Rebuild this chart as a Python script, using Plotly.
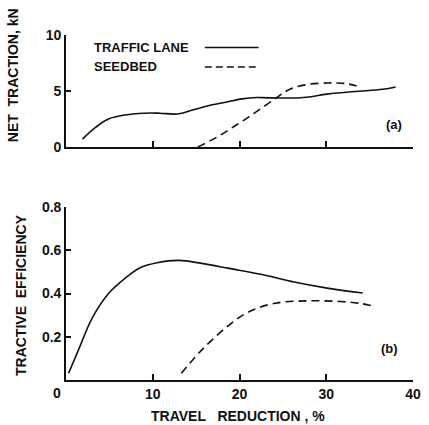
import plotly.graph_objects as go

# --- Data ---
# (a) Net traction, kN vs travel reduction, %
trac_lane_x = [1.9, 3.4, 4.9, 6.8, 9.0, 10.8, 12.8, 14.6, 16.5, 18.4, 20.3, 22.0, 23.2, 24.8, 27.4, 30.1, 33.2, 36.5, 38.0]
trac_lane_y = [0.7, 1.75, 2.5, 2.86, 3.02, 3.02, 2.95, 3.3, 3.7, 4.0, 4.3, 4.42, 4.39, 4.37, 4.42, 4.72, 4.95, 5.15, 5.36]
trac_seed_x = [15.2, 16.6, 18.0, 19.5, 21.0, 22.5, 24.1, 25.2, 26.3, 28.0, 30.1, 31.2, 32.3, 33.5]
trac_seed_y = [0.0, 0.55, 1.15, 1.9, 2.65, 3.45, 4.3, 4.9, 5.3, 5.6, 5.72, 5.72, 5.66, 5.45]

# (b) Tractive efficiency vs travel reduction, %
eff_lane_x = [0.3, 1.5, 3.0, 4.9, 6.8, 8.6, 10.5, 13.0, 15.8, 18.8, 22.6, 26.3, 30.1, 34.2]
eff_lane_y = [0.031, 0.145, 0.285, 0.40, 0.47, 0.52, 0.542, 0.553, 0.538, 0.516, 0.488, 0.453, 0.425, 0.402]
eff_seed_x = [13.3, 15.8, 18.8, 21.1, 24.1, 27.8, 31.6, 33.8, 35.7]
eff_seed_y = [0.031, 0.145, 0.254, 0.316, 0.355, 0.366, 0.363, 0.355, 0.34]

x_ticks = [10, 20, 30, 40]
y1_ticks = [0, 5, 10]
y2_ticks = [0.2, 0.4, 0.6, 0.8]

FONT = "Liberation Sans"
BLACK = "#111111"
LW = 1.6
DASH = "8px,5px"
FS = 13
TFS = 14

fig = go.Figure()
fig.add_trace(go.Scatter(x=trac_lane_x, y=trac_lane_y, mode="lines", line=dict(color=BLACK, width=LW, shape="spline"),
                         xaxis="x", yaxis="y", showlegend=False, cliponaxis=False))
fig.add_trace(go.Scatter(x=trac_seed_x, y=trac_seed_y, mode="lines", line=dict(color=BLACK, width=LW, dash=DASH, shape="spline"),
                         xaxis="x", yaxis="y", showlegend=False, cliponaxis=False))
fig.add_trace(go.Scatter(x=eff_lane_x, y=eff_lane_y, mode="lines", line=dict(color=BLACK, width=LW, shape="spline"),
                         xaxis="x2", yaxis="y2", showlegend=False, cliponaxis=False))
fig.add_trace(go.Scatter(x=eff_seed_x, y=eff_seed_y, mode="lines", line=dict(color=BLACK, width=LW, dash=DASH, shape="spline"),
                         xaxis="x2", yaxis="y2", showlegend=False, cliponaxis=False))

W, H = 429, 425
ML, MR, MT, MB = 66, 8, 35, 45
PH = H - MT - MB

tickfont = dict(family=FONT, size=14, color=BLACK, weight="bold")
common_x = dict(range=[0, 40], showgrid=False, zeroline=False, showline=True, linecolor=BLACK, linewidth=LW,
                ticks="inside", ticklen=6, tickwidth=LW, tickcolor=BLACK, tickvals=x_ticks)
common_y = dict(showgrid=False, zeroline=False, showline=True, linecolor=BLACK, linewidth=LW,
                ticks="inside", ticklen=5, tickwidth=LW, tickcolor=BLACK, tickfont=tickfont)

fig.update_layout(
    width=W, height=H,
    margin=dict(l=ML, r=MR, t=MT, b=MB),
    paper_bgcolor="white", plot_bgcolor="white",
    xaxis=dict(**common_x, domain=[0, 1], anchor="y", showticklabels=False),
    yaxis=dict(**common_y, domain=[(380 - 147) / PH, 1], range=[0, 10], tickvals=y1_ticks, anchor="x"),
    xaxis2=dict(**common_x, domain=[0, 1], anchor="y2", showticklabels=True, tickfont=tickfont),
    yaxis2=dict(**common_y, domain=[0, 173 / PH], range=[0, 0.8], tickvals=y2_ticks, anchor="x2"),
    showlegend=False,
)

def px_x(px):
    return (px - ML) / (W - ML - MR)

def px_y(py):
    return (H - MB - py) / PH

ann = [
    dict(text="NET  TRACTION, kN", x=px_x(12), y=px_y(75), textangle=-90, size=TFS),
    dict(text="TRACTIVE  EFFICIENCY", x=px_x(20), y=px_y(295), textangle=-90, size=TFS),
    dict(text="TRAVEL   REDUCTION , %", x=px_x(242), y=px_y(416), size=TFS),
    dict(text="0", x=px_x(57), y=px_y(393), size=14),
    dict(text="(a)", x=px_x(402), y=px_y(124), size=13),
    dict(text="(b)", x=px_x(397), y=px_y(348), size=13),
    dict(text="TRAFFIC LANE", x=px_x(93), y=px_y(47), xanchor="left", size=FS),
    dict(text="SEEDBED", x=px_x(93), y=px_y(67), xanchor="left", size=FS),
]
for a in ann:
    a.setdefault("xanchor", "center")
    size = a.pop("size")
    a.update(xref="paper", yref="paper", yanchor="middle", showarrow=False,
             font=dict(family=FONT, color=BLACK, size=size, weight="bold"))
fig.update_layout(annotations=ann)

fig.add_shape(type="line", xref="paper", yref="paper", x0=px_x(208), x1=px_x(263), y0=px_y(47.5), y1=px_y(47.5),
              line=dict(color=BLACK, width=LW))
fig.add_shape(type="line", xref="paper", yref="paper", x0=px_x(208), x1=px_x(263), y0=px_y(67), y1=px_y(67),
              line=dict(color=BLACK, width=LW, dash="7px,4px"))

fig.write_html("out.html")
